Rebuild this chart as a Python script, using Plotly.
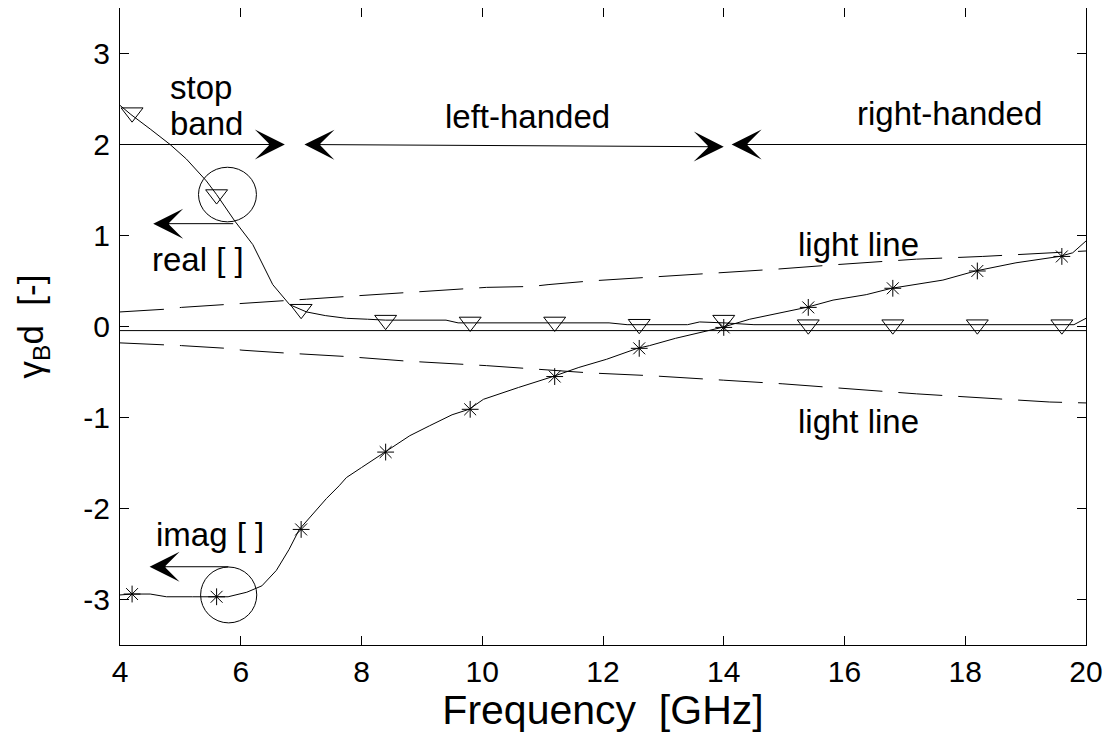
import plotly.graph_objects as go

# ---------------- data ----------------
# real part of gamma_B*d : continuous curve
real_x = [4.0, 4.18, 4.5, 4.83, 5.1, 5.43, 5.6, 5.76, 5.9, 6.2, 6.53, 6.81, 7.0, 7.09,
          7.4, 7.75, 8.1, 8.4, 9.4, 9.6, 12.1, 12.4, 13.4, 13.6, 14.0, 14.5, 19.8, 20.0]
real_y = [2.43, 2.33, 2.17, 2.00, 1.84, 1.60, 1.45, 1.30, 1.16, 0.90, 0.46, 0.24, 0.18, 0.16,
          0.12, 0.09, 0.08, 0.07, 0.07, 0.04, 0.04, 0.02, 0.02, 0.05, 0.04, 0.02, 0.02, 0.09]
# real part : marker samples
real_mx = [4.2, 5.6, 7.0, 8.4, 9.8, 11.2, 12.6, 14.0, 15.4, 16.8, 18.2, 19.6]
real_my = [2.35, 1.45, 0.19, 0.07, 0.05, 0.05, 0.025, 0.07, 0.02, 0.02, 0.02, 0.02]

# imaginary part : continuous curve
imag_x = [4.0, 4.2, 4.5, 4.77, 5.2, 5.58, 5.79, 6.1, 6.35, 6.59, 6.8, 6.97, 7.2, 7.42,
          7.63, 7.75, 8.0, 8.38, 8.8, 9.13, 9.5, 9.78, 10.02, 10.6, 11.17, 11.6, 12.06,
          12.57, 12.77, 13.2, 13.44, 13.97, 14.43, 15.37, 15.81, 16.36, 16.78, 17.63,
          18.17, 18.84, 19.56, 19.78, 20.0]
imag_y = [-2.95, -2.94, -2.94, -2.97, -2.97, -2.97, -2.97, -2.92, -2.85, -2.68, -2.45,
          -2.23, -2.05, -1.89, -1.75, -1.66, -1.55, -1.38, -1.20, -1.09, -0.97, -0.91,
          -0.80, -0.67, -0.55, -0.45, -0.36, -0.24, -0.21, -0.13, -0.09, -0.01, 0.08,
          0.21, 0.29, 0.35, 0.42, 0.51, 0.61, 0.70, 0.77, 0.81, 0.94]
# imaginary part : marker samples
imag_mx = [4.2, 5.6, 7.0, 8.4, 9.8, 11.2, 12.6, 14.0, 15.4, 16.8, 18.2, 19.6]
imag_my = [-2.94, -2.97, -2.23, -1.38, -0.91, -0.55, -0.24, -0.01, 0.21, 0.42, 0.61, 0.77]

# light lines (dashed)
light_up_x = [4.0, 4.75, 5.02, 5.77, 6.02, 6.7, 7.09, 7.75, 8.74, 10.07, 10.82, 11.09,
              11.78, 12.77, 13.77, 14.87, 15.87, 17.19, 18.29, 19.65, 20.0]
light_up_y = [0.16, 0.19, 0.21, 0.24, 0.25, 0.28, 0.30, 0.33, 0.37, 0.43, 0.44, 0.46,
              0.50, 0.54, 0.58, 0.63, 0.68, 0.74, 0.77, 0.82, 0.83]
light_lo_x = [4.0, 4.75, 5.02, 5.77, 6.02, 6.7, 7.75, 8.74, 10.07, 11.78, 12.77, 14.0,
              14.98, 17.19, 19.4, 20.0]
light_lo_y = [-0.18, -0.20, -0.21, -0.24, -0.26, -0.29, -0.33, -0.38, -0.43, -0.51,
              -0.54, -0.59, -0.63, -0.74, -0.83, -0.84]

# horizontal reference line near zero
zero_x = [4.0, 20.0]
zero_y = [-0.045, -0.045]

# axis ticks
x_ticks = [4, 6, 8, 10, 12, 14, 16, 18, 20]
y_ticks = [-3, -2, -1, 0, 1, 2, 3]

# band arrows at gamma=2 : (tail_x, tail_y, head_x, head_y, double?)
band_arrows = [
    (4.0, 2.0, 6.73, 2.0, False),
    (7.03, 2.0, 14.0, 1.975, True),
    (20.0, 2.0, 14.13, 2.0, False),
]
# pointer arrows from circled markers: (tail_x, head_x, y)
pointer_arrows = [(5.9, 4.55, 1.13), (5.82, 4.49, -2.64)]
# circles: (centre_x, centre_y, radius_x, radius_y) in data units
circles = [(5.78, 1.45, 0.48, 0.30), (5.80, -2.95, 0.465, 0.307)]

# text labels: (text, x, y, xanchor)
labels = [
    ("stop", 4.79, 2.63, "left"),
    ("band", 4.79, 2.23, "left"),
    ("left-handed", 10.75, 2.31, "center"),
    ("right-handed", 17.74, 2.34, "center"),
    ("light line", 16.23, 0.90, "center"),
    ("light line", 16.23, -1.04, "center"),
    ("real [ ]", 5.30, 0.74, "center"),
    ("imag [ ]", 5.49, -2.29, "center"),
]

FONT = "Liberation Sans, Arial, Helvetica, sans-serif"
BLACK = "#000000"
NB = "\u00a0"

fig = go.Figure()

# zero reference line
fig.add_trace(go.Scatter(x=zero_x, y=zero_y, mode="lines",
                         line=dict(color=BLACK, width=1), hoverinfo="skip"))
# light lines
for lx, ly in [(light_up_x, light_up_y), (light_lo_x, light_lo_y)]:
    fig.add_trace(go.Scatter(x=lx, y=ly, mode="lines",
                             line=dict(color=BLACK, width=1, dash="44px,16px")))
# real curve
fig.add_trace(go.Scatter(x=real_x, y=real_y, mode="lines",
                         line=dict(color=BLACK, width=1)))
fig.add_trace(go.Scatter(x=real_mx, y=real_my, mode="markers",
                         marker=dict(symbol="triangle-down-open", size=19,
                                     color=BLACK, line=dict(color=BLACK, width=1))))
# imaginary curve
fig.add_trace(go.Scatter(x=imag_x, y=imag_y, mode="lines",
                         line=dict(color=BLACK, width=1)))
fig.add_trace(go.Scatter(x=imag_mx, y=imag_my, mode="markers",
                         marker=dict(symbol="asterisk-open", size=14,
                                     color=BLACK, line=dict(color=BLACK, width=1))))

annotations = []
for tx, ty, hx, hy, dbl in band_arrows:
    annotations.append(dict(
        x=hx, y=hy, ax=tx, ay=ty, xref="x", yref="y", axref="x", ayref="y",
        text="", showarrow=True, arrowhead=3, arrowsize=5, arrowwidth=1,
        arrowcolor=BLACK, standoff=0, startstandoff=0,
        arrowside="end+start" if dbl else "end", startarrowhead=3, startarrowsize=5))
for tx, hx, yy in pointer_arrows:
    annotations.append(dict(
        x=hx, y=yy, ax=tx, ay=yy, xref="x", yref="y", axref="x", ayref="y",
        text="", showarrow=True, arrowhead=3, arrowsize=5, arrowwidth=1,
        arrowcolor=BLACK, standoff=0))
for txt, lx, ly, anc in labels:
    annotations.append(dict(
        x=lx, y=ly, xref="x", yref="y", text=txt, showarrow=False,
        xanchor=anc, yanchor="middle", font=dict(family=FONT, size=33, color=BLACK)))

shapes = []
for cx, cy, rx, ry in circles:
    shapes.append(dict(type="circle", xref="x", yref="y",
                       x0=cx - rx, x1=cx + rx, y0=cy - ry, y1=cy + ry,
                       line=dict(color=BLACK, width=1)))

axis_common = dict(
    showgrid=False, zeroline=False, showline=True, linecolor=BLACK, linewidth=1,
    mirror="ticks", ticks="inside", ticklen=9, tickwidth=1, tickcolor=BLACK,
    tickfont=dict(family=FONT, size=30, color=BLACK),
)

fig.update_layout(
    width=1110, height=725,
    margin=dict(l=112, r=32, t=0, b=88, autoexpand=False),
    paper_bgcolor="white", plot_bgcolor="white",
    showlegend=False,
    font=dict(family=FONT, color=BLACK),
    annotations=annotations,
    shapes=shapes,
    xaxis=dict(range=[4, 20], tickvals=x_ticks, ticktext=[str(v) for v in x_ticks],
               title=dict(text="Frequency" + NB + NB + "[GHz]", standoff=4,
                          font=dict(family=FONT, size=41, color=BLACK)),
               ticklabelstandoff=0, automargin=False, **axis_common),
    yaxis=dict(range=[-3.5, 3.5], tickvals=y_ticks, ticktext=[str(v) for v in y_ticks],
               title=dict(text="γ<sub>B</sub>d" + NB + NB + "[-]", standoff=29,
                          font=dict(family=FONT, size=35, color=BLACK)),
               ticklabelstandoff=3, automargin=False, **axis_common),
)

fig.write_html("out.html")
